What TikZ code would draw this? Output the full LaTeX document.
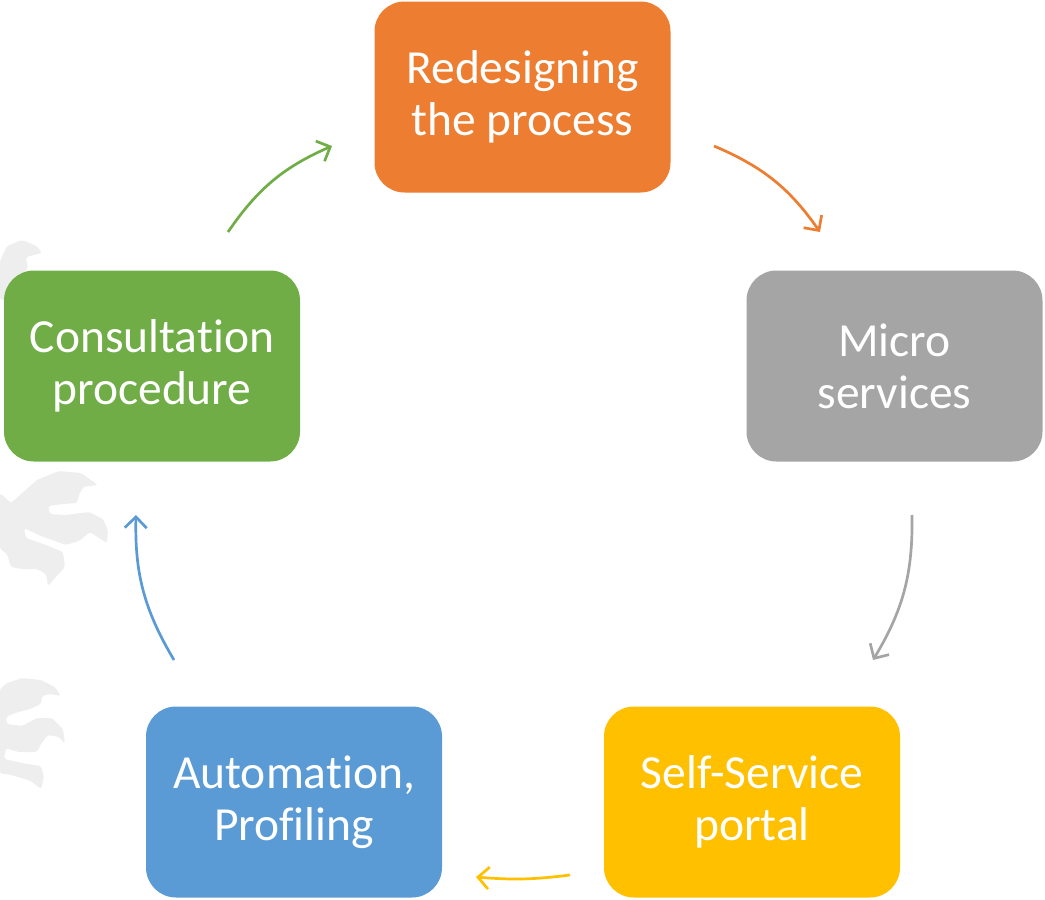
\documentclass[tikz,border=0pt]{standalone}
\usepackage{fontspec}
\setmainfont{Carlito}[Ligatures=NoCommon]
\usetikzlibrary{arrows.meta}
\definecolor{cOrange}{HTML}{ED7D31}
\definecolor{cGray}{HTML}{A5A5A5}
\definecolor{cYellow}{HTML}{FFC000}
\definecolor{cBlue}{HTML}{5B9BD5}
\definecolor{cGreen}{HTML}{70AD47}
\definecolor{cMark}{HTML}{EEEEEE}
\tikzset{
  stepbox/.style={rounded corners=30pt, minimum width=296pt, minimum height=191pt,
    text=white, align=center, font=\fontsize{47.5}{52}\selectfont, inner sep=0pt},
  flow/.style={line width=2.7pt, -{Straight Barb[length=11pt,width=22pt]}, bend left=16},
  bgblob/.style={fill=cMark, draw=none, rounded corners=2.5pt}
}
\begin{document}
\begin{tikzpicture}[x=1pt,y=1pt]
\useasboundingbox (0,0) rectangle (1045,-900);
% faint background marks
\fill[bgblob] (0,-261) -- (7,-246) -- (22,-240) -- (37,-246) -- (42,-253) -- (26,-257) -- (28,-268) -- (22,-274) -- (22,-300) -- (0,-300) -- cycle;
\fill[bgblob] (0,-493) -- (11,-503) -- (37,-480) -- (59,-471) -- (81,-473) -- (98,-485) -- (83,-487) -- (79,-495) -- (77,-503) -- (63,-504) -- (48,-506) -- (50,-514) -- (65,-515) -- (89,-512) -- (103,-519) -- (108,-530) -- (107,-543) -- (90,-532) -- (79,-541) -- (66,-545) -- (55,-541) -- (41,-536) -- (24,-528) -- (26,-538) -- (46,-545) -- (63,-552) -- (65,-567) -- (55,-578) -- (48,-586) -- (46,-574) -- (37,-569) -- (22,-569) -- (11,-567) -- (7,-554) -- (0,-549) -- cycle;
\fill[bgblob] (0,-689) -- (7,-683) -- (22,-678) -- (41,-680) -- (55,-687) -- (61,-696) -- (50,-694) -- (42,-696) -- (41,-704) -- (30,-709) -- (15,-713) -- (6,-717) -- (7,-724) -- (22,-726) -- (37,-718) -- (52,-718) -- (63,-729) -- (65,-744) -- (59,-737) -- (48,-735) -- (41,-744) -- (37,-752) -- (18,-752) -- (6,-748) -- (4,-759) -- (22,-763) -- (41,-766) -- (44,-777) -- (41,-789) -- (31,-781) -- (18,-777) -- (7,-774) -- (0,-774) -- cycle;
% boxes
\node[stepbox, fill=cOrange] (redesign) at (522.5,-97) {Redesigning\\the process};
\node[stepbox, fill=cGray] (micro) at (894.5,-366) {Micro\\services};
\node[stepbox, fill=cYellow] (self) at (752,-802) {Self-Service\\portal};
\node[stepbox, fill=cBlue] (auto) at (294,-802) {Automation,\\Profiling};
\node[stepbox, fill=cGreen] (consult) at (152,-366) {Consultation\\procedure};
% arrow end points
\coordinate (g1) at (228,-232); \coordinate (g2) at (332,-146);
\coordinate (o1) at (714,-146); \coordinate (o2) at (820,-232);
\coordinate (s1) at (912,-515); \coordinate (s2) at (873,-660);
\coordinate (y1) at (570,-875); \coordinate (y2) at (476,-877);
\coordinate (b1) at (174,-660); \coordinate (b2) at (136,-515);
\draw[flow, cGreen] (g1) to (g2);
\draw[flow, cOrange] (o1) to (o2);
\draw[flow, cGray] (s1) to (s2);
\draw[flow, cYellow, bend left=6] (y1) to (y2);
\draw[flow, cBlue] (b1) to (b2);
\end{tikzpicture}
\end{document}
